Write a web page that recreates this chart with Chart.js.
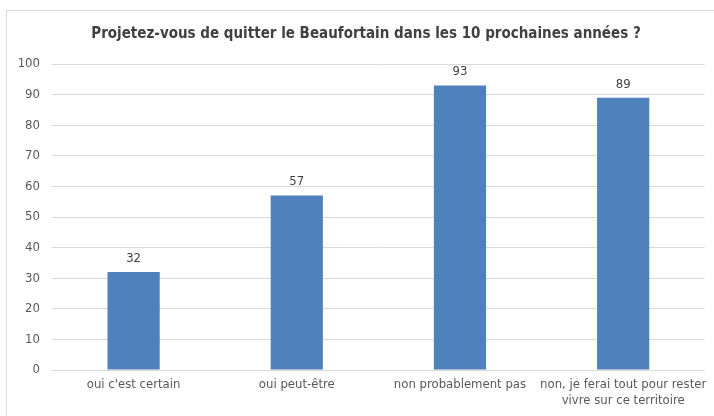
<!DOCTYPE html>
<html><head><meta charset="utf-8">
<script src="https://cdn.jsdelivr.net/npm/chart.js@4"></script>
<style>html,body{margin:0;padding:0;background:#fff;}#wrap{position:absolute;left:0;top:0;width:714px;height:416px;}</style>
</head><body><div id="wrap"><canvas id="c" width="714" height="416"></canvas></div>
<script>
const categories = ["oui c'est certain", "oui peut-être", "non probablement pas", ["non, je ferai tout pour rester", "vivre sur ce territoire"]];
const values = [32, 57, 93, 89];
const yTicks = [0, 10, 20, 30, 40, 50, 60, 70, 80, 90, 100];
const titleText = "Projetez-vous de quitter le Beaufortain dans les 10 prochaines années ?";
const FONT = "'DejaVu Sans Condensed', sans-serif";

const frame = {
  id: 'frame',
  beforeDraw(chart) {
    const ctx = chart.ctx;
    ctx.save();
    ctx.fillStyle = '#fff';
    ctx.fillRect(0, 0, chart.width, chart.height);
    ctx.strokeStyle = '#d9d9d9';
    ctx.lineWidth = 1;
    ctx.strokeRect(6.5, 10.5, 800, 500);
    ctx.restore();
  },
  afterDraw(chart) {
    const ctx = chart.ctx;
    ctx.save();
    ctx.font = "bold 15px " + FONT;
    ctx.fillStyle = '#404040';
    ctx.textAlign = 'center';
    ctx.textBaseline = 'middle';
    ctx.fillText(titleText, 366, 34);
    ctx.restore();
  }
};
const labels = {
  id: 'labels',
  afterDatasetsDraw(chart) {
    const ctx = chart.ctx;
    const meta = chart.getDatasetMeta(0);
    ctx.save();
    ctx.font = "13px " + FONT;
    ctx.fillStyle = '#404040';
    ctx.textAlign = 'center';
    ctx.textBaseline = 'bottom';
    meta.data.forEach((bar, i) => {
      ctx.fillText(String(values[i]), bar.x, bar.y - 7);
    });
    ctx.restore();
  }
};

new Chart(document.getElementById('c'), {
  type: 'bar',
  data: {
    labels: categories,
    datasets: [{ data: values, backgroundColor: '#4f81bd', borderWidth: 0, categoryPercentage: 1, barPercentage: 0.32 }]
  },
  options: {
    responsive: false,
    animation: false,
    devicePixelRatio: 1,
    layout: { padding: { left: 0, right: 6, top: 64, bottom: 0 } },
    plugins: {
      legend: { display: false },
      tooltip: { enabled: false },
      title: { display: false }
    },
    scales: {
      x: {
        grid: { display: false, drawTicks: false },
        border: { display: true, color: '#d9d9d9' },
        ticks: { color: '#595959', font: { family: FONT, size: 13 }, maxRotation: 0, autoSkip: false, padding: 7 },
        afterFit(s) { s.height = 46; }
      },
      y: {
        min: 0, max: 100,
        afterBuildTicks(s) { s.ticks = yTicks.map(v => ({ value: v })); },
        grid: { color: '#d9d9d9', drawTicks: false },
        border: { display: false },
        ticks: { color: '#595959', font: { family: FONT, size: 13 }, padding: 12 },
        afterFit(s) { s.width = 52; }
      }
    }
  },
  plugins: [frame, labels]
});
</script></body></html>
